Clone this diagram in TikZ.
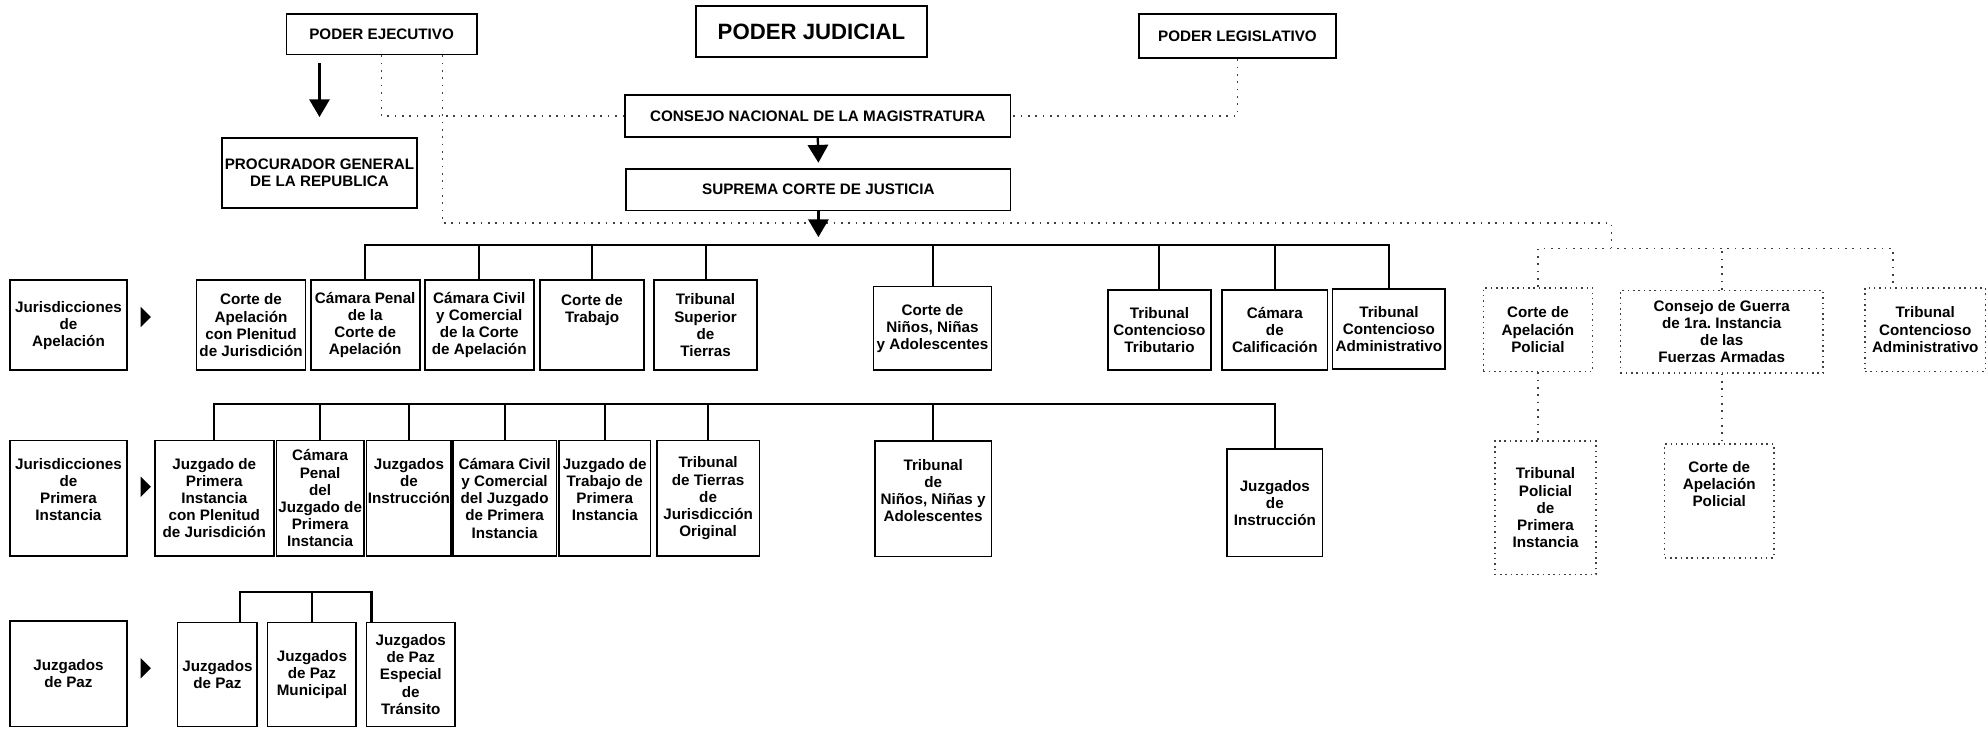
\documentclass[tikz,border=0pt]{standalone}
\usepackage{fontspec}
\setmainfont{Liberation Sans}
\usetikzlibrary{arrows.meta, positioning}
\frenchspacing

\begin{document}
\begin{tikzpicture}[x=1pt, y=-1pt,
    caja/.style={draw, line width=1.4pt, align=center, inner sep=0pt, font=\bfseries\fontsize{12}{13.5}\selectfont},
    cajapunto/.style={caja, line width=1.2pt, dash pattern=on 1.2pt off 3pt, draw=black!75},
    rama/.style={line width=1.6pt},
    puntos/.style={line width=1.3pt, dash pattern=on 1.3pt off 4.5pt, black!75},
    flecha/.style={line width=1.8pt, -{Triangle[width=16pt,length=14pt]}}]
    \useasboundingbox (0,0) rectangle (1568,575);

    % Poderes
    \node[caja, minimum width=150pt, minimum height=32pt] (ejec) at (301,27) {PODER EJECUTIVO};
    \node[caja, minimum width=182pt, minimum height=40pt, font=\bfseries\fontsize{17.5}{20}\selectfont] (judicial) at (640,25) {PODER JUDICIAL};
    \node[caja, minimum width=155pt, minimum height=35pt] (legis) at (976,28.5) {PODER LEGISLATIVO};
    \node[caja, minimum width=304pt, minimum height=33pt] (consejo) at (645,91.5) {CONSEJO NACIONAL DE LA MAGISTRATURA};
    \node[caja, minimum width=303pt, minimum height=33pt] (suprema) at (645.5,149.5) {SUPREMA CORTE DE JUSTICIA};
    \node[caja, minimum width=154pt, minimum height=55pt] (proc) at (252,136.5) {PROCURADOR GENERAL\\DE LA REPUBLICA};

    % Jurisdicciones de Apelacion
    \node[caja, minimum width=92pt, minimum height=71pt] (lab1) at (54,256.5) {Jurisdicciones\\de\\Apelación};
    \node[caja, minimum width=86pt, minimum height=71pt] (c1) at (198,256.5) {Corte de\\Apelación\\con Plenitud\\de Jurisdición};
    \node[caja, minimum width=86pt, minimum height=71pt] (c2) at (288,256.5) {Cámara Penal\\de la\\Corte de\\Apelación};
    \node[caja, minimum width=86pt, minimum height=71pt] (c3) at (378,256.5) {Cámara Civil\\y Comercial\\de la Corte\\de Apelación};
    \node[caja, minimum width=82pt, minimum height=71pt] (c4) at (467,256.5) {Corte de\\Trabajo\\~\\~};
    \node[caja, minimum width=81pt, minimum height=71pt] (c5) at (556.5,256.5) {Tribunal\\Superior\\de\\Tierras};
    \node[caja, minimum width=93pt, minimum height=66pt] (c6) at (735.5,259) {Corte de\\Niños, Niñas\\y Adolescentes};
    \node[caja, minimum width=81pt, minimum height=63pt] (c7) at (914.5,260.5) {Tribunal\\Contencioso\\Tributario};
    \node[caja, minimum width=83pt, minimum height=63pt] (c8) at (1005.5,260.5) {Cámara\\de\\Calificación};
    \node[caja, minimum width=89pt, minimum height=63pt] (c9) at (1095.5,259.5) {Tribunal\\Contencioso\\Administrativo};

    % Jurisdiccion policial y militar
    \node[cajapunto, minimum width=86pt, minimum height=66pt] (capol) at (1213,260) {Corte de\\Apelación\\Policial};
    \node[cajapunto, minimum width=160pt, minimum height=65pt] (cgff) at (1358,261.5) {Consejo de Guerra\\de 1ra. Instancia\\de las\\Fuerzas Armadas};
    \node[cajapunto, minimum width=95pt, minimum height=66pt] (tcapol) at (1518.5,260) {Tribunal\\Contencioso\\Administrativo};
    \node[cajapunto, minimum width=80pt, minimum height=105pt] (tpol) at (1219,400.5) {Tribunal\\Policial\\de\\Primera\\Instancia};
    \node[cajapunto, minimum width=86pt, minimum height=90pt] (capol2) at (1356,395) {Corte de\\Apelación\\Policial\\~\\~};

    % Jurisdicciones de Primera Instancia
    \node[caja, minimum width=92pt, minimum height=91pt] (lab2) at (54,393) {Jurisdicciones\\de\\Primera\\Instancia\\~};
    \node[caja, minimum width=94pt, minimum height=91pt] (d1) at (169,393) {Juzgado de\\Primera\\Instancia\\con Plenitud\\de Jurisdición};
    \node[caja, minimum width=69pt, minimum height=91pt] (d2) at (252.5,393) {Cámara\\Penal\\del\\Juzgado de\\Primera\\Instancia};
    \node[caja, minimum width=67pt, minimum height=91pt] (d3) at (322.5,393) {Juzgados\\de\\Instrucción\\~\\~};
    \node[caja, minimum width=82pt, minimum height=91pt] (d4) at (398,393) {Cámara Civil\\y Comercial\\del Juzgado\\de Primera\\Instancia};
    \node[caja, minimum width=72pt, minimum height=91pt] (d5) at (477,393) {Juzgado de\\Trabajo de\\Primera\\Instancia\\~};
    \node[caja, minimum width=81pt, minimum height=91pt] (d6) at (558.5,393) {Tribunal\\de Tierras\\de\\Jurisdicción\\Original};
    \node[caja, minimum width=92pt, minimum height=91pt] (d7) at (736,393.5) {Tribunal\\de\\Niños, Niñas y\\Adolescentes\\~};
    \node[caja, minimum width=75pt, minimum height=85pt] (d8) at (1005.5,396.5) {Juzgados\\de\\Instrucción};

    % Juzgados de Paz
    \node[caja, minimum width=92pt, minimum height=83pt] (lab3) at (54,531.5) {Juzgados\\de Paz};
    \node[caja, minimum width=63pt, minimum height=82pt] (p1) at (171.5,532) {Juzgados\\de Paz};
    \node[caja, minimum width=70pt, minimum height=82pt] (p2) at (246,532) {Juzgados\\de Paz\\Municipal};
    \node[caja, minimum width=70pt, minimum height=82pt] (p3) at (324,532) {Juzgados\\de Paz\\Especial\\de\\Tránsito};

    % Marcas de nivel
    \foreach \y in {250,384,527}
        \fill (111,\y-8) -- (111,\y+8) -- (119,\y) -- cycle;

    % Flechas
    \draw[flecha] ([yshift=-6pt]proc.north |- ejec.south) -- ([yshift=16pt]proc.north);
    \draw[flecha] (consejo.south) -- ([yshift=4pt]suprema.north);

    % Lineas punteadas
    \coordinate (policia) at (1271,196);
    \coordinate (tcadrop) at ([xshift=-25.5pt]tcapol.north);
    \draw[puntos] (ejec.south) |- (consejo.west);
    \draw[puntos] (legis.south) |- (consejo.east);
    \draw[puntos] ([xshift=48pt]ejec.south) |- ([yshift=20pt]policia) -- (policia);
    \draw[puntos] (capol.north) |- (tcadrop |- policia) -- (tcadrop);
    \draw[puntos] (cgff.north) -- (cgff.north |- policia);
    \draw[puntos] (capol.south) -- (capol.south |- tpol.north);
    \draw[puntos] (cgff.south) -- (cgff.south |- capol2.north);

    % Ramas
    \coordinate (b1) at (0,193);
    \coordinate (b2) at (0,319);
    \coordinate (b3) at (0,467);
    \draw[flecha] (suprema.south) -- ([yshift=6pt]suprema.south |- b1);
    \draw[rama] (c2.north) -- (c2.north |- b1) -| (c9.north);
    \foreach \n in {c3,c4,c5,c6,c7,c8}
        \draw[rama] (\n.north) -- (\n.north |- b1);
    \draw[rama] (d1.north) -- (d1.north |- b2) -| (d8.north);
    \foreach \n in {d2,d3,d4,d5,d6,d7}
        \draw[rama] (\n.north) -- (\n.north |- b2);
    \draw[rama] ([xshift=17.5pt]p1.north) -- ([xshift=17.5pt]p1.north |- b3) -| ([xshift=-31pt]p3.north);
    \draw[rama] (p2.north) -- (p2.north |- b3);

\end{tikzpicture}
\end{document}
